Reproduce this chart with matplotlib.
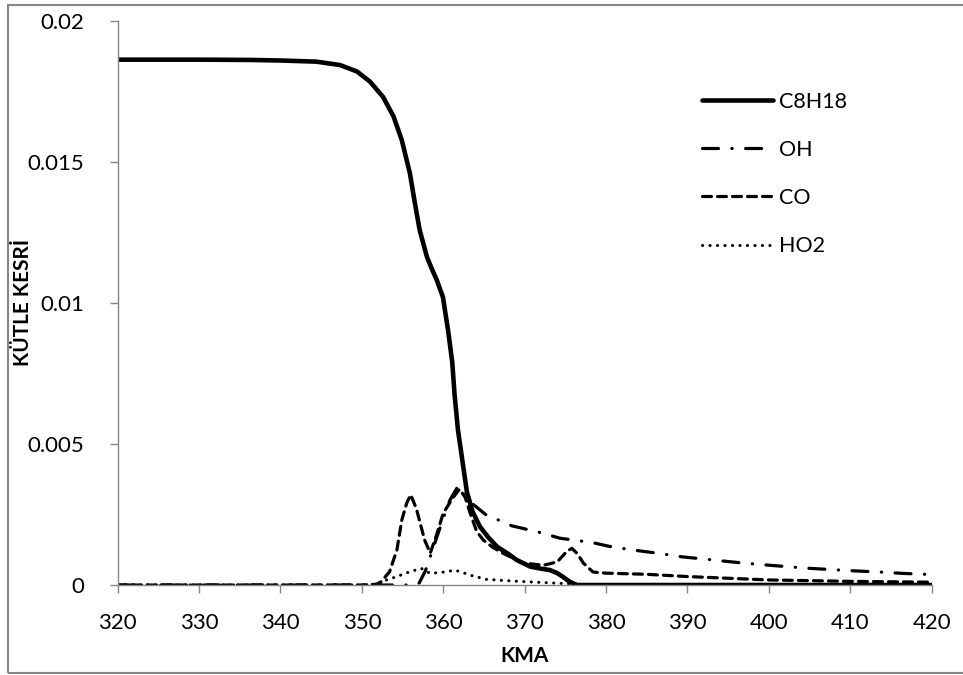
import matplotlib
matplotlib.use("Agg")
import matplotlib.pyplot as plt
from matplotlib.patches import Rectangle

plt.rcParams['font.family'] = ['Lato', 'DejaVu Sans']

# data
x_c8h18 = [320, 330, 336.3, 340, 344.4, 347.3, 349.4, 351.0, 352.6, 353.9, 354.9, 355.9,
           356.5, 357.1, 358.0, 358.6, 359.2, 359.96, 360.6, 361.1, 361.4, 361.8, 362.4,
           362.9, 363.6, 364.5, 365.5, 366.6, 368, 369.0, 370.7, 372, 373.1, 374, 374.7,
           375.5, 376.4, 380, 420]
y_c8h18 = [0.01862, 0.01862, 0.01861, 0.01859, 0.01855, 0.01843, 0.0182, 0.01784, 0.0173,
           0.0166, 0.01577, 0.01459, 0.01355, 0.01258, 0.01162, 0.0112, 0.01081,
           0.0102, 0.0090, 0.0079, 0.0067, 0.0055, 0.0043, 0.0033, 0.0026, 0.00207, 0.0017,
           0.00136, 0.0011, 0.00089, 0.00065, 0.00058, 0.00053, 0.00042, 0.00029, 0.00012,
           0.0, 0.0, 0.0]

x_oh = [320, 356, 357, 357.8, 358.8, 359.8, 360.8, 361.8, 362.5, 363.5, 365.2, 368.4, 372.2,
        374.3, 378.4, 380.4, 383.3, 386.3, 389.3, 392.4, 395.4, 398.4, 401.4, 404.5, 407.5,
        410.6, 413.7, 416.6, 420]
y_oh = [0, 0, 0.00005, 0.0005, 0.00135, 0.0022, 0.003, 0.0035, 0.0034, 0.0029, 0.0025, 0.0021,
        0.00184, 0.00166, 0.0015, 0.00137, 0.00124, 0.00113, 0.001, 0.00091, 0.00082, 0.00074,
        0.00067, 0.0006, 0.00055, 0.0005, 0.00046, 0.00041, 0.00037]

x_co = [320, 350, 351.5, 352.2, 353.4, 354.3, 354.9, 355.5, 356.0, 356.7, 357.7, 358.4, 359.2,
        360.0, 361.2, 362.0, 362.7, 363.3, 364.1, 364.9, 366, 367.3, 369.8, 372.3, 374.0,
        375.2, 375.8, 376.5, 377.2, 378.4, 380, 385, 390, 400, 410, 420]
y_co = [0, 0, 0.00002, 0.00006, 0.00047, 0.00124, 0.0023, 0.0029, 0.0032, 0.0027, 0.0016,
        0.00113, 0.0018, 0.00255, 0.0031, 0.0034, 0.0031, 0.00255, 0.0019, 0.0016, 0.00135,
        0.00113, 0.00078, 0.0007, 0.00082, 0.0012, 0.0013, 0.0011, 0.00078, 0.00046, 0.00042,
        0.00038, 0.0003, 0.00018, 0.00013, 0.0001]

x_ho2 = [320, 351, 352.2, 354.3, 355.9, 357.3, 358.4, 360.4, 361.4, 362.3, 363.3, 365.3,
         368.6, 372.8, 375, 378, 420]
y_ho2 = [0, 0, 0.0001, 0.0003, 0.00047, 0.00059, 0.00041, 0.00047, 0.00053, 0.00045, 0.00035,
         0.0002, 0.00014, 0.00008, 0.00005, 0.00001, 0]

x_ticks = list(range(320, 421, 10))
y_ticks = [0, 0.005, 0.01, 0.015, 0.02]
y_tick_labels = ['0', '0.005', '0.01', '0.015', '0.02']

fig = plt.figure(figsize=(9.63, 6.75), dpi=100)
ax = fig.add_axes([0.1222, 0.1333, 0.8453, 0.836])

grey = '#868686'

ax.plot(x_c8h18, y_c8h18, color='black', lw=3.3, label='C8H18',
        solid_capstyle='round', solid_joinstyle='round')
ax.plot(x_oh, y_oh, color='black', lw=2.3, label='OH', dashes=(5, 4.2, 0.1, 4.2),
        dash_capstyle='round')
ax.plot(x_co, y_co, color='black', lw=2.3, label='CO', dashes=(2.8, 1.9),
        dash_capstyle='round')
ax.plot(x_ho2, y_ho2, color='black', lw=2.2, label='HO2', dashes=(0.05, 2.4),
        dash_capstyle='round')

ax.set_xlim(320, 420)
ax.set_ylim(0, 0.02)
ax.set_xticks(x_ticks)
ax.set_yticks(y_ticks)
ax.set_yticklabels(y_tick_labels)

for s in ['top', 'right']:
    ax.spines[s].set_visible(False)
for s in ['left', 'bottom']:
    ax.spines[s].set_color(grey)
    ax.spines[s].set_linewidth(1.0)
ax.tick_params(axis='both', colors=grey, length=6, width=1.0, labelcolor='black',
               labelsize=16, direction='out')
ax.tick_params(axis='x', pad=14)
ax.tick_params(axis='y', pad=18)

ax.set_xlabel('KMA', fontsize=15, fontweight='bold', va='center')
ax.set_ylabel('KÜTLE KESRİ', fontsize=15, fontweight='bold', va='center')
ax.xaxis.set_label_coords(0.5, -0.126)
ax.yaxis.set_label_coords(-0.1163, 0.5)

ax.legend(loc='upper left', bbox_to_anchor=(0.718, 0.8745), frameon=False, fontsize=15.5,
          handlelength=3.3, handletextpad=0.28, labelspacing=1.31, borderpad=0,
          borderaxespad=0)

# outer chart border as in the spreadsheet export
fig.patches.append(Rectangle((8 / 963, 2 / 675), 1.2, 1 - 7 / 675, transform=fig.transFigure,
                             fill=False, edgecolor=grey, lw=1.5))

plt.savefig('out.png', dpi=100)
